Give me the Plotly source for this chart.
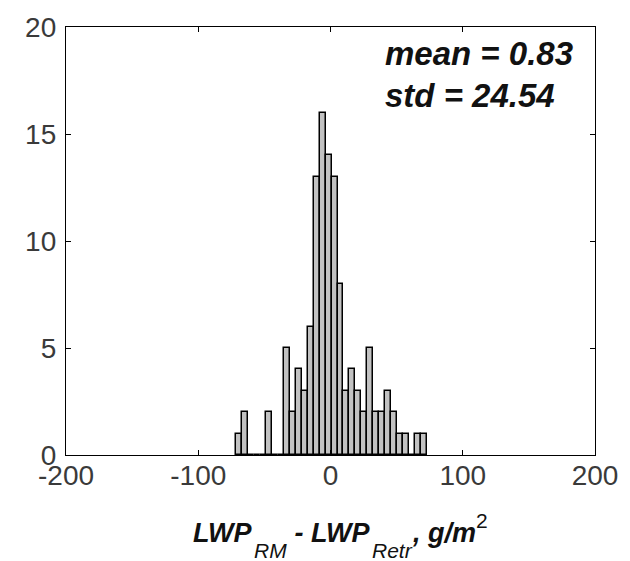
import plotly.graph_objects as go

# bin centres (g/m^2) and counts
bin_centers = [-68.95, -64.45, -59.95, -55.45, -50.95, -46.45, -41.95, -37.45,
               -32.95, -28.45, -23.95, -19.45, -14.95, -10.45, -5.95, -1.45,
               3.05, 7.55, 12.05, 16.55, 21.05, 25.55, 30.05, 34.55,
               39.05, 43.55, 48.05, 52.55, 57.05, 61.55, 66.05, 70.55]
counts = [1, 2, 0, 0, 0, 2, 0, 0,
          5, 2, 4, 3, 6, 13, 16, 14,
          13, 8, 3, 4, 3, 2, 5, 2,
          2, 3, 2, 1, 1, 0, 1, 1]
bin_width = 4.5
x_ticks = [-200, -100, 0, 100, 200]
x_tick_text = ["-200", "-100", "0", "100", "200"]
y_ticks = [0, 5, 10, 15, 20]
stats_text = ["mean = 0.83", "std = 24.54"]
# x-axis title pieces: (text, kind)  kind: main / sub / sup
title_pieces = [("LWP", "main"), ("RM", "sub"), (" - LWP", "main"),
                ("Retr", "sub"), (", g/m", "main"), ("2", "sup")]

font_family = "Liberation Sans, Arial, sans-serif"
W, H = 630, 561
L, R, T, B = 66, 32, 24, 106
pw, ph = W - L - R, H - T - B


def px_to_paper(px, py):
    return (px - L) / pw, (H - B - py) / ph


fig = go.Figure()
fig.add_trace(go.Bar(
    x=bin_centers, y=counts, width=bin_width,
    marker=dict(color="#c2c2c2", line=dict(color="black", width=1.5)),
    showlegend=False,
))

axis_common = dict(
    showline=True, linecolor="black", linewidth=1.3, mirror="ticks",
    ticks="inside", ticklen=5, tickcolor="black", tickwidth=1,
    showgrid=False, zeroline=False,
    tickfont=dict(family=font_family, size=28, color="#3a3a3a"),
)

annotations = []
# statistics text (left aligned)
for txt, py in zip(stats_text, [50.5, 93]):
    xp, yp = px_to_paper(386, py)
    annotations.append(dict(
        x=xp, y=yp, xref="paper", yref="paper", xanchor="left", yanchor="middle",
        showarrow=False, borderpad=0, text="<b><i>" + txt + "</i></b>",
        font=dict(family=font_family, size=33, color="#111")))

# x-axis title built from pieces so subscripts sit low as in the original
main_size, small_size = 27, 21
em_bold = {"L": .611, "W": .944, "P": .667, " ": .278, "-": .333, ",": .278,
           "g": .611, "/": .278, "m": .889}
em_reg = {"R": .722, "M": .833, "e": .556, "t": .278, "r": .333, "2": .556}
centers_y = {"main": 543 - 0.35 * main_size,
             "sub": 559 - 0.35 * small_size,
             "sup": 528 - 0.35 * small_size}
cur_x = 193
for txt, kind in title_pieces:
    if kind == "main":
        size, width = main_size, sum(em_bold[c] for c in txt) * main_size
        text = "<b><i>" + txt + "</i></b>"
    else:
        size, width = small_size, sum(em_reg[c] for c in txt) * small_size
        text = "<i>" + txt + "</i>" if kind == "sub" else txt
    xp, yp = px_to_paper(cur_x, centers_y[kind])
    annotations.append(dict(
        x=xp, y=yp, xref="paper", yref="paper", xanchor="left", yanchor="middle",
        showarrow=False, borderpad=0, text=text,
        font=dict(family=font_family, size=size, color="#111")))
    cur_x += width + 1

fig.update_layout(
    width=W, height=H,
    paper_bgcolor="white", plot_bgcolor="white",
    margin=dict(l=L, r=R, t=T, b=B),
    bargap=0,
    xaxis=dict(range=[-200, 200], tickvals=x_ticks, ticktext=x_tick_text,
               ticklabelstandoff=-5, **axis_common),
    yaxis=dict(range=[0, 20], tickvals=y_ticks, ticklabelstandoff=3, **axis_common),
    annotations=annotations,
)

fig.write_html("out.html")
